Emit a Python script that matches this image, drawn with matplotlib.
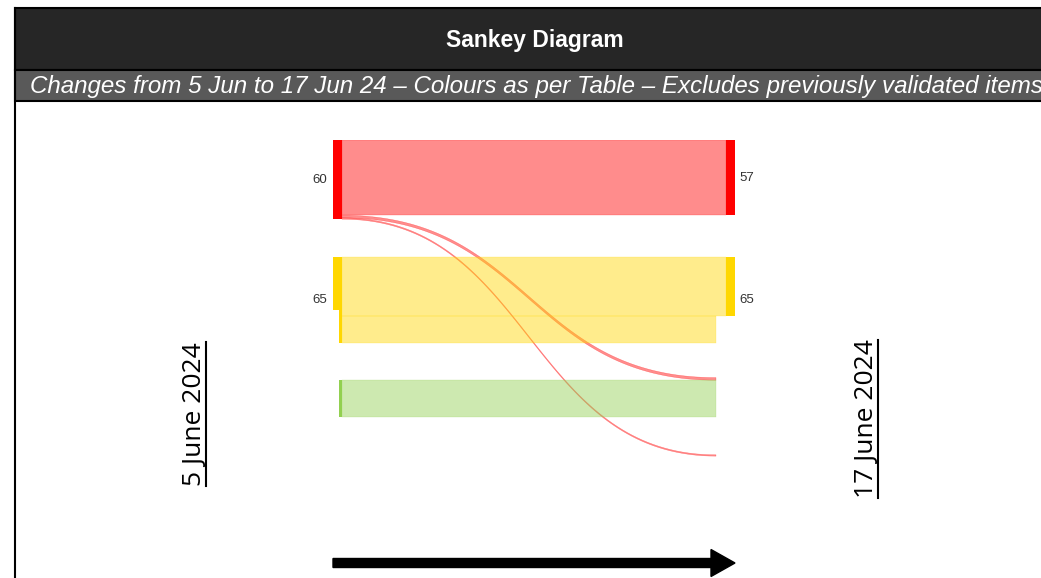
import matplotlib
matplotlib.use("Agg")
from matplotlib import pyplot as plt
from matplotlib.patches import Rectangle, FancyArrow, Polygon
import numpy as np

# ---- data ----
left_nodes = ["Red", "Amber", "Green"]
left_labels = ["60", "65", ""]
left_shown = [60, 40, 0]          # part of each left node drawn as a full-width bar
right_nodes = ["Red", "Amber"]
right_labels = ["57", "65"]
# source, target, value, target column ("right" or "mid")
flow_src = ["Red", "Red", "Red", "Amber", "Amber", "Green"]
flow_dst = ["Red", "Green*", "Closed*", "Amber", "Amber", "Green*"]
flow_val = [57, 2, 1, 44, 21, 28]
flow_col = ["right", "mid", "mid", "right", "mid", "mid"]

colours = {"Red": "#FF0000", "Amber": "#FFD700", "Green": "#92D050",
           "Green*": "#92D050", "Closed*": "#FF0000"}

# ---- layout (flow units from top of diagram) ----
node_top = {"Red": 0, "Amber": 89, "Green": 182}
mid_top = {"Green*": 180, "Closed*": 238.5}
X_NODE0, X_NODE1, X_STUB0 = 0.0, 9 / 402, 6 / 402
X_MID, X_RIGHT0, X_RIGHT1 = 383 / 402, 393 / 402, 1.0
LINK_ALPHA = 0.45

fig = plt.figure(figsize=(10.41, 5.78), dpi=100)

# background / frame in pixel coordinates
bg = fig.add_axes([0, 0, 1, 1])
bg.set_xlim(0, 1041)
bg.set_ylim(578, 0)
bg.axis("off")
bg.add_patch(Rectangle((15, 8), 1040, 62, fc="#262626", ec="black", lw=1.5))
bg.add_patch(Rectangle((15, 70), 1040, 31, fc="#595959", ec="black", lw=1.5))
bg.plot([15, 15], [8, 578], color="black", lw=1.5)
bg.text(535, 40, "Sankey Diagram", color="white", fontsize=16.5, fontweight="bold",
        family="Liberation Sans", ha="center", va="center")
bg.text(30, 86, "Changes from 5 Jun to 17 Jun 24 \u2013 Colours as per Table \u2013 "
        "Excludes previously validated items", color="white", fontsize=17.35,
        style="italic", family="Liberation Sans", ha="left", va="center")

t1 = bg.text(194, 414, "5 June 2024", rotation=90, fontsize=19, family="Open Sans",
             fontweight="medium", ha="center", va="center", color="black")
t2 = bg.text(866, 419, "17 June 2024", rotation=90, fontsize=19, family="Open Sans",
             fontweight="medium", ha="center", va="center", color="black")

bg.add_patch(FancyArrow(333, 563, 402, 0, width=9, head_width=27, head_length=24,
                        length_includes_head=True, color="black"))

# sankey axes: x 333..735 px, y 140..470 px
K = 1.32  # px per unit
ax = fig.add_axes([333 / 1041, 1 - 470 / 578, 402 / 1041, 330 / 578])
ax.set_xlim(0, 1)
ax.set_ylim(330 / K, 0)
ax.axis("off")


def link(x0, x1, y0a, y0b, y1a, y1b, colour):
    s = np.linspace(0, 1, 80)
    xm = (x0 + x1) / 2
    bx = (1 - s) ** 3 * x0 + 3 * (1 - s) ** 2 * s * xm + 3 * (1 - s) * s ** 2 * xm + s ** 3 * x1
    top = y0a + (y1a - y0a) * (3 * s ** 2 - 2 * s ** 3)
    bot = y0b + (y1b - y0b) * (3 * s ** 2 - 2 * s ** 3)
    pts = np.vstack([np.column_stack([bx, top]), np.column_stack([bx[::-1], bot[::-1]])])
    ax.add_patch(Polygon(pts, closed=True, fc=colour, ec=colour, lw=0.3, alpha=LINK_ALPHA))


src_off = {n: node_top[n] for n in left_nodes}
dst_off = dict(node_top)
dst_off.update(mid_top)
for s, d, v, c in zip(flow_src, flow_dst, flow_val, flow_col):
    y0 = src_off[s]
    src_off[s] += v
    y1 = dst_off[d]
    dst_off[d] += v
    x1 = X_RIGHT0 if c == "right" else X_MID
    link(X_NODE1, x1, y0, y0 + v, y1, y1 + v, colours[s])

# left nodes
for n, lab, shown in zip(left_nodes, left_labels, left_shown):
    tot = src_off[n] - node_top[n]
    ax.bar(X_STUB0, tot, width=X_NODE1 - X_STUB0, bottom=node_top[n], align="edge",
           color=colours[n], lw=0)
    if shown:
        ax.bar(X_NODE0, shown, width=X_NODE1 - X_NODE0, bottom=node_top[n], align="edge",
               color=colours[n], lw=0)
    if lab:
        ax.text(-0.014, node_top[n] + tot / 2, lab, ha="right", va="center",
                fontsize=9.5, color="#333333", family="Liberation Sans")

# right nodes
for n, lab in zip(right_nodes, right_labels):
    shown = sum(v for d, v, c in zip(flow_dst, flow_val, flow_col) if d == n and c == "right")
    tot = sum(v for d, v in zip(flow_dst, flow_val) if d == n)
    ax.bar(X_RIGHT0, shown, width=X_RIGHT1 - X_RIGHT0, bottom=node_top[n], align="edge",
           color=colours[n], lw=0)
    ax.text(1.012, node_top[n] + tot / 2, lab, ha="left", va="center",
            fontsize=9.5, color="#333333", family="Liberation Sans")

# underline the rotated date labels
fig.canvas.draw()
for t in (t1, t2):
    bb = t.get_window_extent()
    bg.plot([bb.x1 - 1, bb.x1 - 1], [578 - bb.y1, 578 - bb.y0], color="black", lw=1.5)

fig.savefig("out.png", dpi=100)
